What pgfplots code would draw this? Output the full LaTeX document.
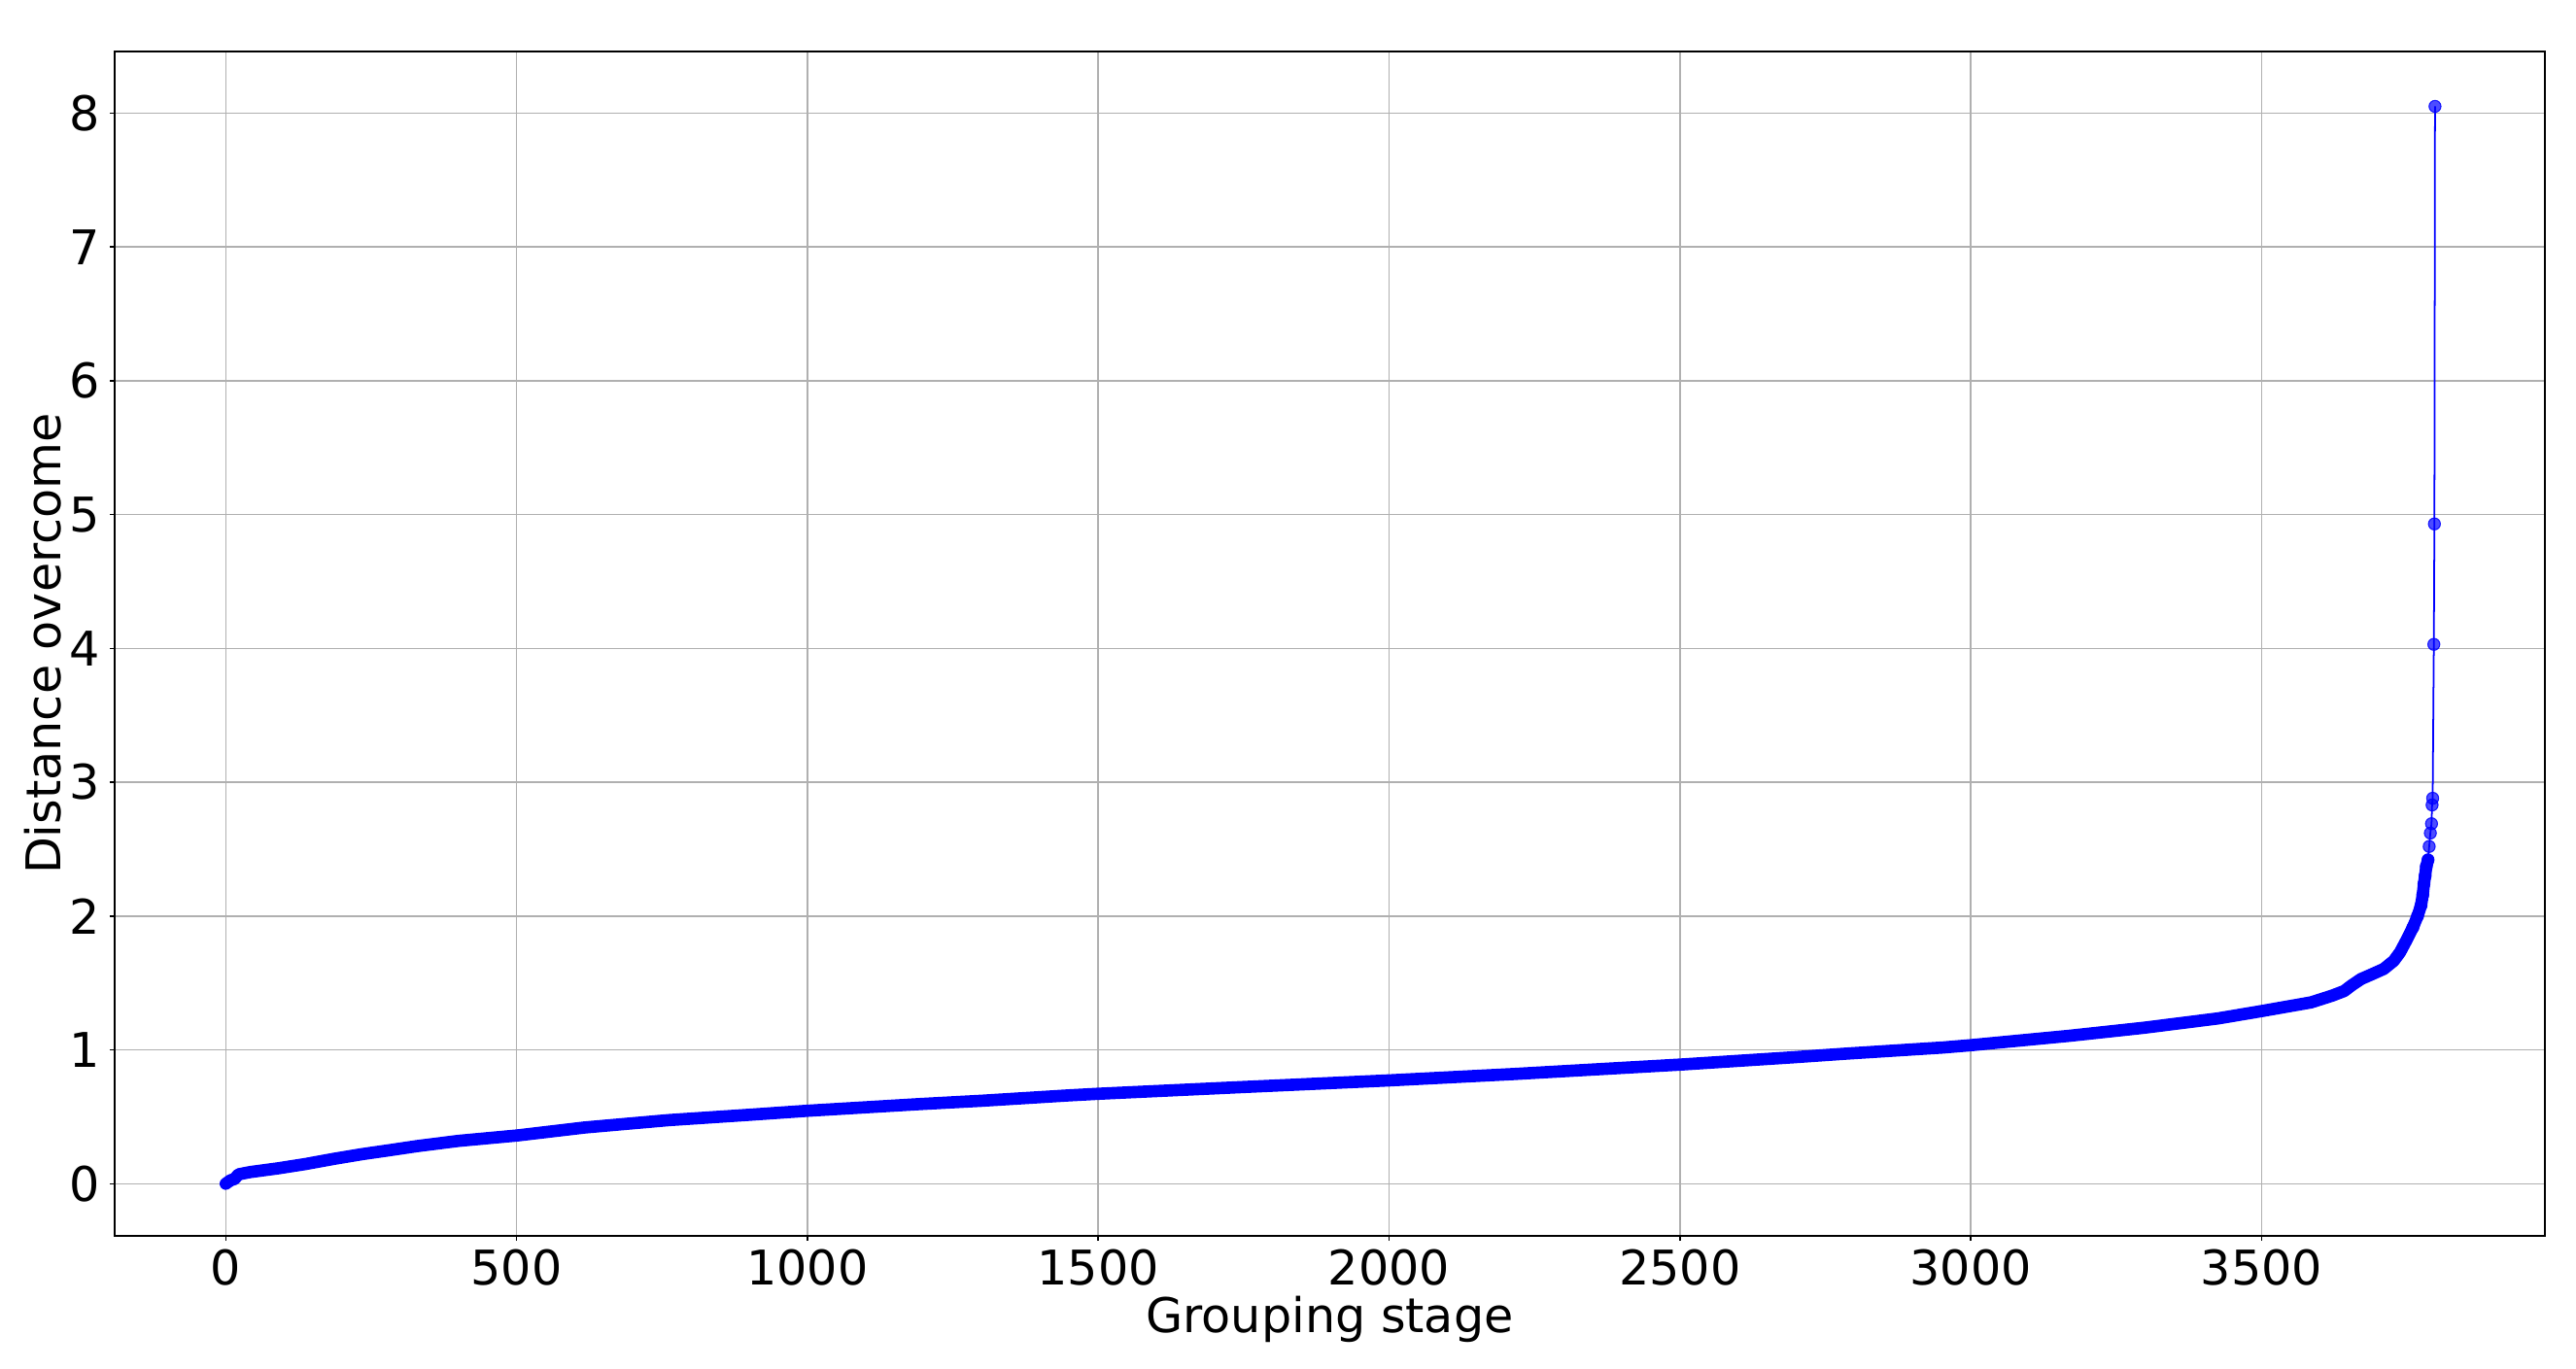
\documentclass[border=0pt]{standalone}
\usepackage{fontspec}
\setmainfont{DejaVu Sans}
\usepackage{pgfplots}
\pgfplotsset{compat=1.18}
\usepackage{pgfplotstable}
\definecolor{gridgray}{RGB}{176,176,176}
\pgfplotstableread{
x y
0 0
8 0.025
15 0.035
22 0.07
42 0.087
90 0.115
137 0.147
185 0.185
233 0.22
281 0.25
329 0.281
400 0.32
500 0.36
617 0.42
761 0.475
900 0.515
1000 0.545
1193 0.595
1300 0.62
1449 0.66
1500 0.672
1737 0.72
2000 0.772
2216 0.82
2500 0.89
2696 0.945
2786 0.972
2953 1.018
3000 1.035
3169 1.105
3297 1.165
3425 1.235
3500 1.29
3585 1.355
3621 1.405
3642 1.44
3654 1.48
3671 1.53
3688 1.562
3710 1.605
3727 1.665
3738 1.73
3749 1.82
3760 1.915
3768 2.0
3774 2.08
3777 2.16
3779 2.24
3781 2.30
3783 2.37
3786 2.42
}\dense
\pgfplotstableread{
x y
3760 1.915
3768 2.0
3774 2.08
3777 2.16
3779 2.24
3781 2.30
3783 2.37
3786 2.42
3788 2.52
3790 2.62
3792 2.69
3793 2.83
3794 2.88
3796 4.03
3797 4.93
3798 8.05
}\tail
\begin{document}
\begin{tikzpicture}
\useasboundingbox (-1.18cm,-1.36cm) rectangle (25.33cm,12.72cm);
\begin{axis}[
  at={(0,0)}, anchor=south west, scale only axis,
  width=25.01cm, height=12.19cm,
  xmin=-191, xmax=3987, ymin=-0.39, ymax=8.46,
  xtick={0,500,...,3500}, ytick={0,1,...,8},
  grid=major, grid style={color=gridgray, line width=0.45pt},
  axis line style={line width=0.45pt},
  tick align=outside, tickpos=left, major tick length=0.05cm,
  tick style={black, line width=0.45pt},
  /pgf/number format/assume math mode=true,
  /pgf/number format/1000 sep={},
  ticklabel style={font=\fontsize{14}{16}\selectfont},
  xticklabel style={inner sep=0pt, anchor=north, yshift=-0.08cm},
  yticklabel style={inner sep=0pt, anchor=east, xshift=-0.09cm},
  xlabel={Grouping stage}, ylabel={Distance overcome},
  label style={font=\fontsize{14}{16}\selectfont},
  xlabel style={at={(axis description cs:0.5,-0.0705)}, anchor=center, inner sep=0pt},
  ylabel style={at={(axis description cs:-0.0296,0.5)}, anchor=center, inner sep=0pt},
]
\addplot[blue, line width=3.6pt, line join=round, line cap=round] table[x=x,y=y] {\dense};
\addplot[blue, line width=0.5pt, mark=*, mark size=1.75pt,
  mark options={fill=blue, fill opacity=0.7, draw=blue, draw opacity=0.85, line width=0.3pt}]
  table[x=x,y=y] {\tail};
\end{axis}
\end{tikzpicture}
\end{document}
